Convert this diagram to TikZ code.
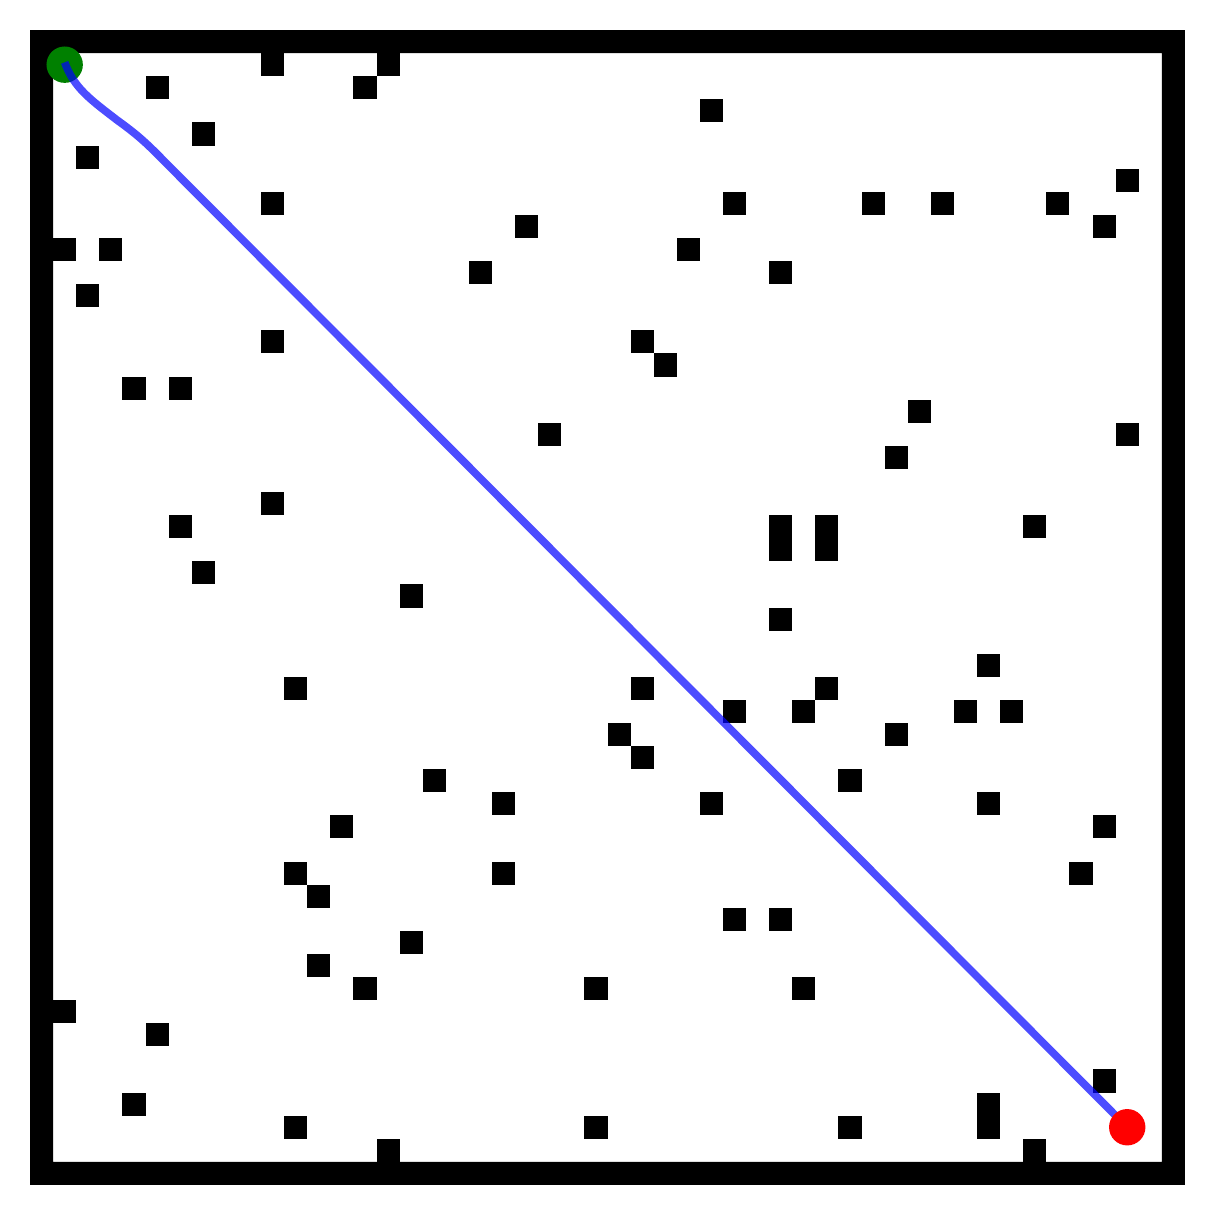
\documentclass[tikz,border=0pt]{standalone}
\begin{document}
\begin{tikzpicture}[
  x=0.4cm, y=-0.4cm,
  wall/.style={fill=black, even odd rule},
  block/.style={fill=black},
  trace/.style={draw=blue, draw opacity=0.7, line width=3.8pt},
  marker/.style={circle, inner sep=0pt, minimum size=0.63cm},
  startpt/.style={marker, fill=green!50!black},
  goalpt/.style={marker, fill=red}
]
  \useasboundingbox (-1.3,-1.3) rectangle (51.3,51.3);
  % outer wall
  \fill[wall] (0,0) rectangle (50,50) (1,1) rectangle (49,49);
  % obstacles
  \foreach \c/\r in {10/1,15/1,5/2,14/2,29/3,7/4,2/5,47/6,10/7,30/7,36/7,39/7,44/7,
    21/8,46/8,1/9,3/9,28/9,19/10,32/10,2/11,10/13,26/13,27/14,4/15,6/15,38/16,
    22/17,47/17,37/18,10/20,6/21,32/21,34/21,43/21,32/22,34/22,7/23,16/24,32/25,
    41/27,11/28,26/28,34/28,30/29,33/29,40/29,42/29,25/30,37/30,26/31,17/32,35/32,
    20/33,29/33,41/33,13/34,46/34,11/36,20/36,45/36,12/37,30/38,32/38,16/39,12/40,
    14/41,24/41,33/41,1/42,5/43,46/45,4/46,41/46,41/47,11/47,24/47,35/47,15/48,43/48}
    \fill[block] (\c,\r) rectangle ++(1,1);
  % start and goal
  \node[startpt] (start) at (1.5,1.5) {};
  \coordinate (bend1) at (3.77,3.9);
  \coordinate (bend2) at (5.76,5.63);
  \draw[trace] (1.5,1.4) .. controls (1.9,2.5) and (2.6,3.0) .. (bend1)
    .. controls (4.6,4.5) and (5.0,4.85) .. (bend2) -- (47.5,47.5);
  \node[goalpt] (goal) at (47.5,47.5) {};
\end{tikzpicture}
\end{document}
